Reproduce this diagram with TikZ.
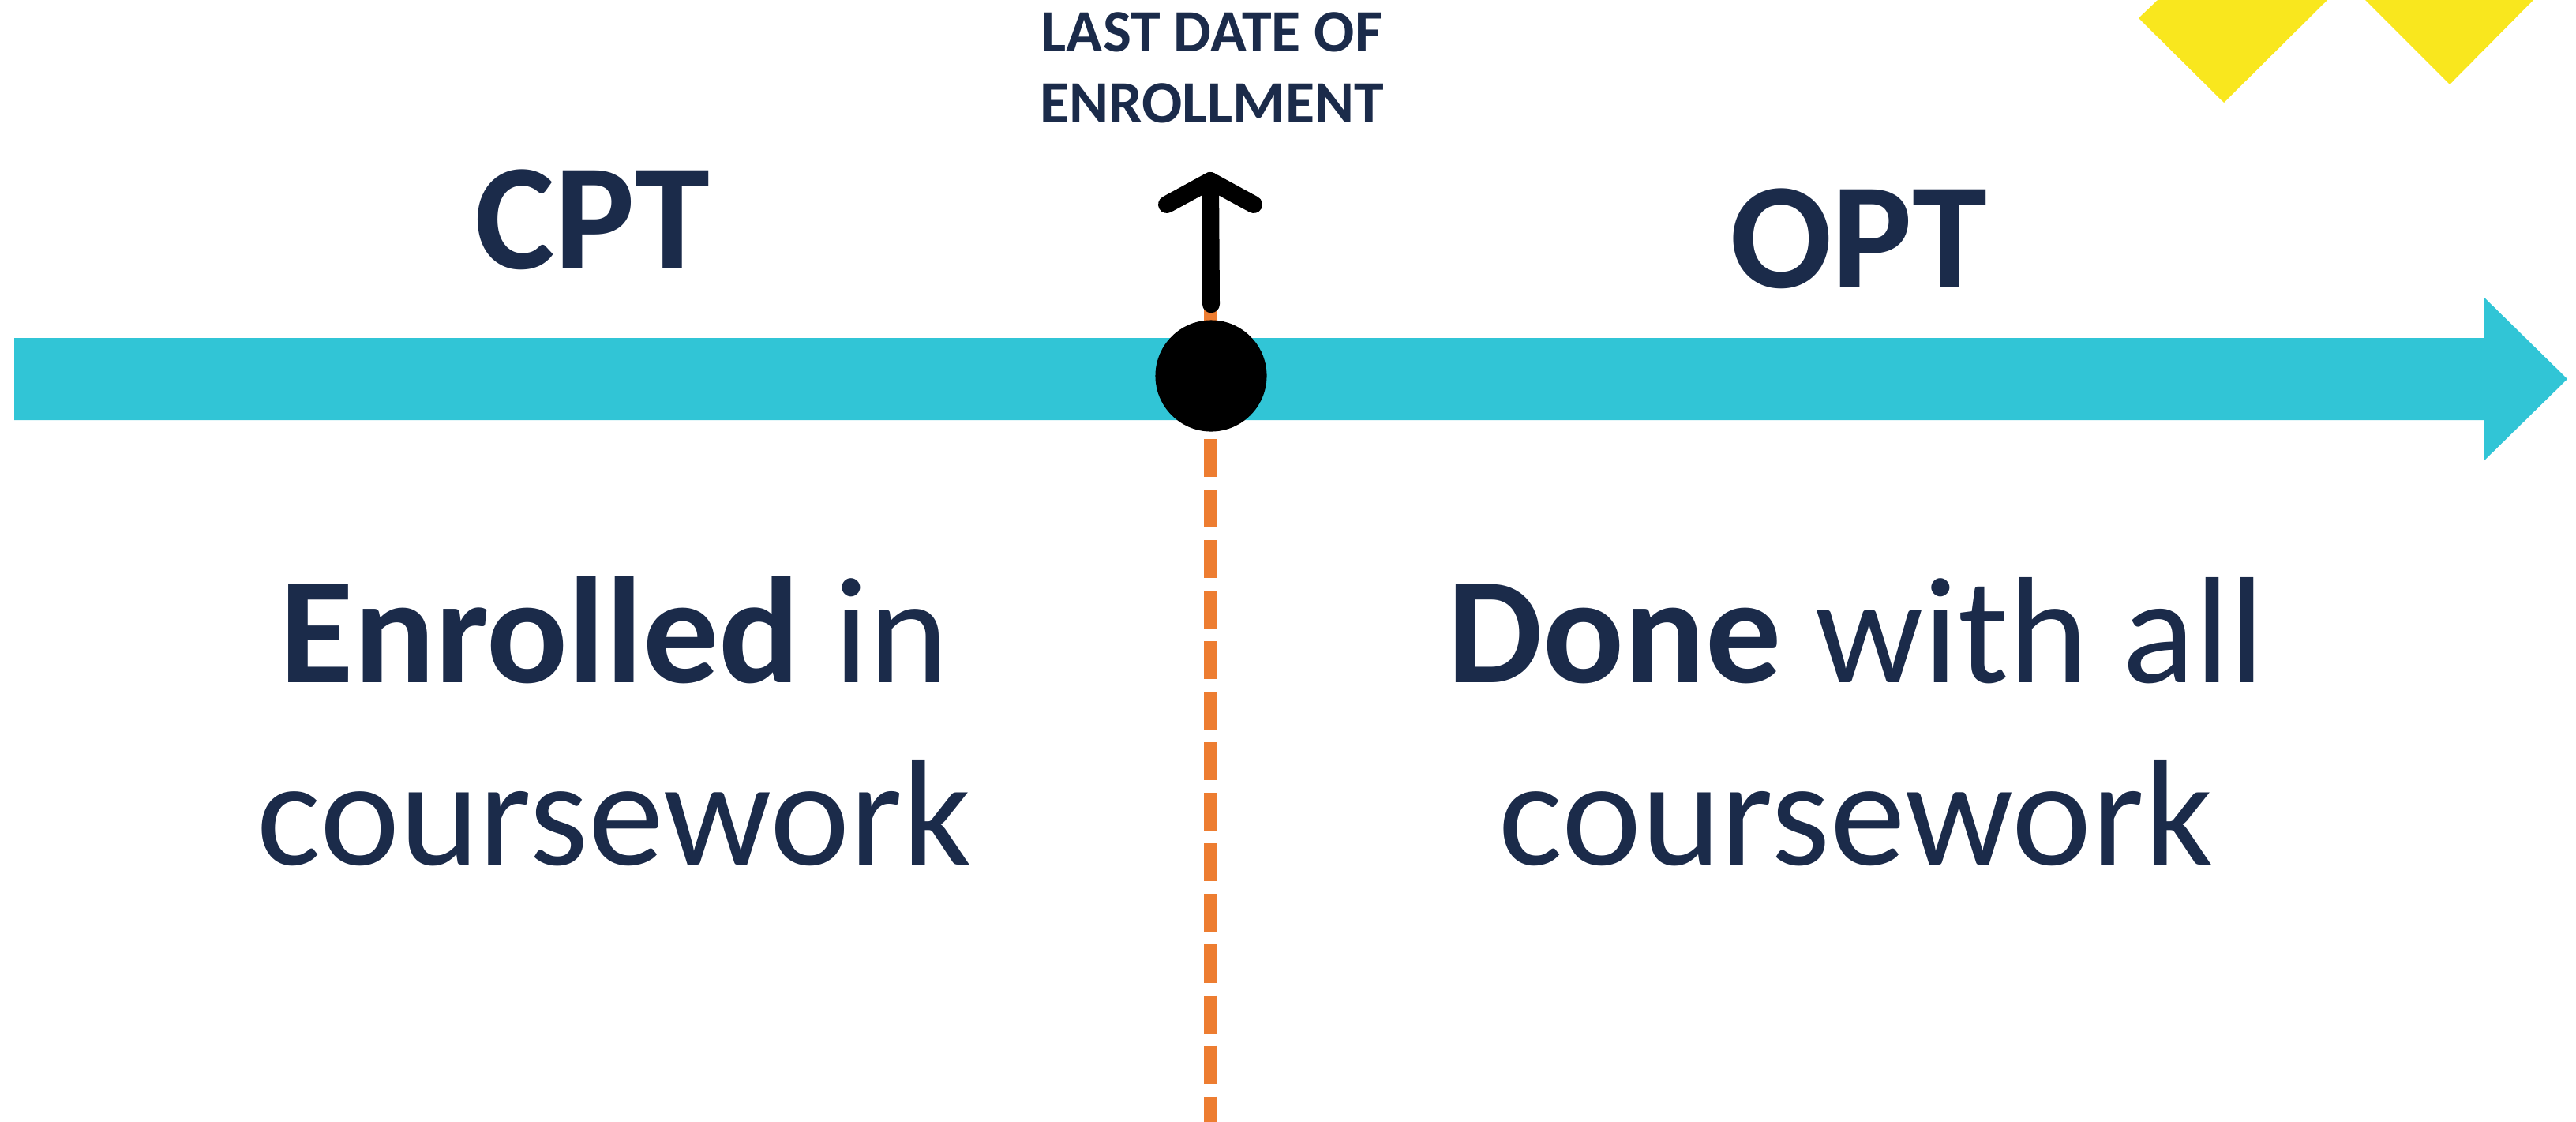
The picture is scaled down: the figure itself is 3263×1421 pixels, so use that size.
\documentclass[tikz,border=0pt]{standalone}
\usepackage{fontspec}
\setmainfont{Carlito}
\usetikzlibrary{calc}
\definecolor{navyc}{RGB}{27,43,74}
\definecolor{cyanc}{RGB}{49,197,214}
\definecolor{orangec}{RGB}{237,125,49}
\definecolor{yellowc}{RGB}{249,231,30}
\tikzset{
  bigtext/.style={text=navyc, inner sep=0pt, anchor=base, font=\fontsize{54.5}{60}\selectfont},
  smalltext/.style={text=navyc, inner sep=0pt, anchor=base, font=\bfseries\fontsize{21.6}{26}\selectfont},
  dashline/.style={draw=orangec, line width=0.16cm, dash pattern=on 0.48cm off 0.16cm},
  blkline/.style={draw=black, line width=0.22cm, line cap=round, line join=round},
  timeline/.style={fill=cyanc},
  deco/.style={fill=yellowc},
  dotnode/.style={circle, fill=black, minimum size=1.41cm, inner sep=0pt}
}
\begin{document}
\begin{tikzpicture}[x=0.01cm,y=-0.01cm]
\useasboundingbox (0,0) rectangle (3263,1421);
% decorative yellow shapes
\fill[deco] (2733,0) -- (2709,23) -- (2817,130) -- (2948,0) -- cycle;
\fill[deco] (2996,0) -- (3103,107) -- (3209,0) -- cycle;
% dashed orange line
\coordinate (dashtop) at (1533,364);
\coordinate (dashbot) at (1533,1421);
\draw[dashline] (dashtop) -- (dashbot);
% timeline arrow
\fill[timeline] (18,428) -- (3147,428) -- (3147,377) -- (3252,480) -- (3147,583) -- (3147,532) -- (18,532) -- cycle;
% dot
\node[dotnode] (dot) at (1534,476) {};
% black arrow
\coordinate (tip) at (1533,229);
\draw[blkline] ([yshift=0.195cm]dot.north) -- (tip);
\draw[blkline] ($(tip)+(-55,30)$) -- (tip) -- ($(tip)+(55,30)$);
% labels
\node[smalltext] (last) at (1535,65) {LAST DATE OF};
\node[smalltext] (enr) at (1535,155) {ENROLLMENT};
\node[bigtext, font=\bfseries\fontsize{54.5}{60}\selectfont] (cpt) at (750,340) {CPT};
\node[bigtext, font=\bfseries\fontsize{54.5}{60}\selectfont] (opt) at (2354,364) {OPT};
\node[bigtext] (l1) at (778,864) {\textbf{Enrolled} in};
\node[bigtext] (l2) at (778,1095) {coursework};
\node[bigtext] (r1) at (2351,864) {\textbf{Done} with all};
\node[bigtext] (r2) at (2351,1095) {coursework};
\end{tikzpicture}
\end{document}
